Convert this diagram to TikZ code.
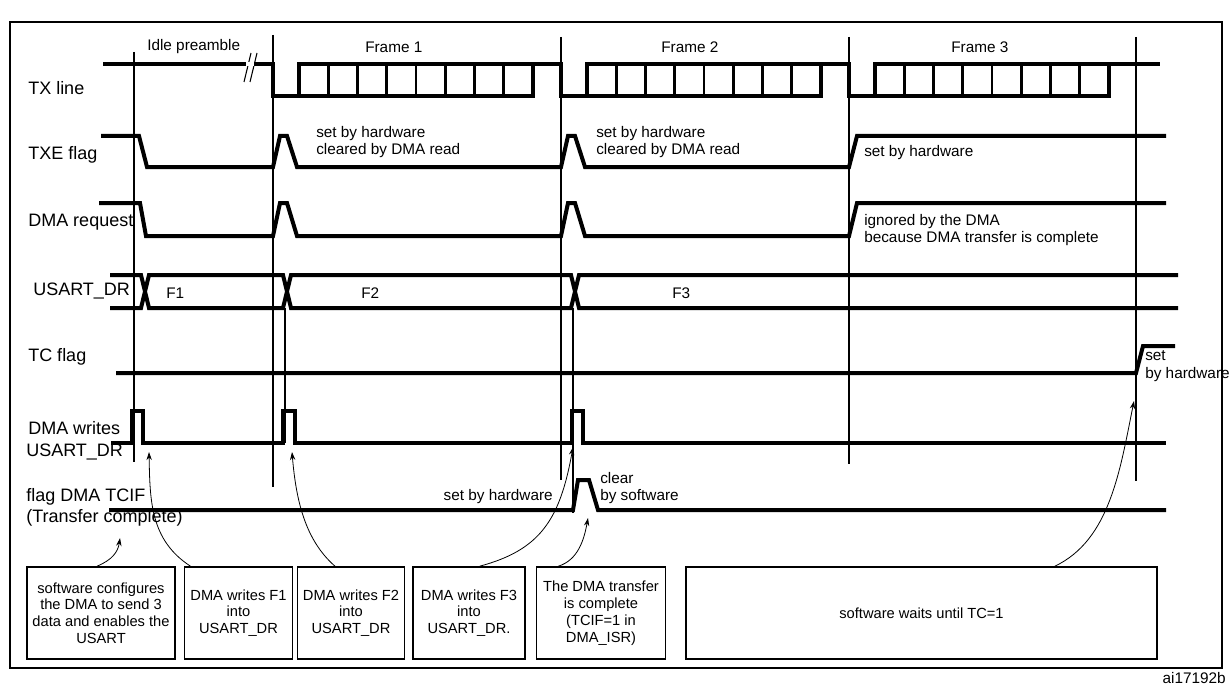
\documentclass[tikz,border=0pt]{standalone}
\usepackage{fontspec}
\setmainfont{Liberation Sans}
\usetikzlibrary{positioning}
\usetikzlibrary{arrows.meta}

\tikzset{
  sig/.style={line width=3pt,line join=miter},
  grid/.style={line width=0.8pt},
  lbl/.style={font=\fontsize{13.5}{15}\selectfont,anchor=west,inner sep=0pt},
  note/.style={font=\fontsize{11.5}{13}\selectfont,anchor=west,align=left,inner sep=0pt},
  box/.style={draw,line width=1.2pt,font=\fontsize{11}{12.6}\selectfont,align=center,minimum height=69pt,inner sep=1pt},
  call/.style={-{Stealth[length=6pt,width=4pt]},line width=0.6pt}
}

\begin{document}
\begin{tikzpicture}[x=0.75pt,y=-0.75pt]
      \useasboundingbox (0,0) rectangle (1230,688);
      \draw[line width=1.5pt] (10,22) rectangle (1222,668);
      % frame markers
      \draw[grid] (134,52) -- (134,462) (273,35) -- (273,487) (561,37) -- (561,480)
                  (849,37) -- (849,464) (1136,37) -- (1136,481)
                  (285,308) -- (285,443) (573,308) -- (573,513);
      \node[note] at (147,47) {Idle preamble};
      \node[note] at (365,47) {Frame 1};
      \node[note] at (661,47) {Frame 2};
      \node[note] at (951,47) {Frame 3};
      % signal names
      \node[lbl] at (28,88) {TX line};
      \node[lbl] at (28,155) {TXE flag};
      \node[lbl] at (28,222) {DMA request};
      \node[lbl] at (33,291) {USART\_DR};
      \node[lbl] at (28,357) {TC flag};
      \node[lbl] at (28,428) {DMA writes};
      \node[lbl] at (26,452) {USART\_DR};
      \node[lbl] at (26,497) {flag DMA TCIF};
      \node[lbl] at (26,518) {(Transfer complete)};
      % TX line
      \draw[sig] (103,64) -- (273,64) -- (273,96) -- (299,96) -- (299,64) -- (561,64) -- (561,96)
                 -- (587,96) -- (587,64) -- (849,64) -- (849,96) -- (875,96) -- (875,64) -- (1160,64);
      \draw[sig] (299,96) -- (533,96) -- (533,64) (587,96) -- (821,96) -- (821,64) (875,96) -- (1109,96) -- (1109,64);
      \foreach\s in {0,288,576} {
        \foreach\i in {1,...,7} { \draw[sig,line width=2.2pt] (299+\s+29.25*\i,64) -- (299+\s+29.25*\i,96); }
      }
      \draw[grid] (244,82) -- (251,53) (250,82) -- (257,53);
      \fill[white] (246,62) rectangle (254,66);
      % TXE flag
      \draw[sig] (101,136) -- (139,136) -- (147,167) -- (273,167) -- (280,136) -- (287,136) -- (297,167)
                 -- (561,167) -- (568,136) -- (575,136) -- (585,167) -- (849,167) -- (857,136) -- (1166,136);
      \node[note] at (316,142) {set by hardware\\cleared by DMA read};
      \node[note] at (596,142) {set by hardware\\cleared by DMA read};
      \node[note] at (864,153) {set by hardware};
      % DMA request
      \draw[sig] (99,203) -- (140,203) -- (146,236) -- (273,236) -- (280,203) -- (287,203) -- (297,236)
                 -- (561,236) -- (568,203) -- (575,203) -- (585,236) -- (849,236) -- (857,203) -- (1166,203);
      \node[note] at (864,230) {ignored by the DMA\\because DMA transfer is complete};
      % USART_DR
      \draw[sig] (110,275) -- (141,275) -- (149,308) -- (283,308) -- (291,275) -- (571,275) -- (579,308) -- (1178,308)
                 (110,308) -- (141,308) -- (149,275) -- (283,275) -- (291,308) -- (571,308) -- (579,275) -- (1178,275);
      \node[note] at (166,293) {F1};
      \node[note] at (361,293) {F2};
      \node[note] at (672,293) {F3};
      % TC flag
      \draw[sig] (116,373) -- (1136,373) -- (1143,346) -- (1175,346);
      \node[note] at (1145,366) {set\\by hardware};
      % DMA writes
      \draw[sig] (111,443) -- (132,443) -- (132,411) -- (143,411) -- (143,443) -- (283,443) -- (283,411)
                 -- (295,411) -- (295,443) -- (572,443) -- (572,411) -- (583,411) -- (583,443) -- (1166,443);
      % TCIF
      \draw[sig] (109,510) -- (573,510) -- (578,480) -- (589,480) -- (598,510) -- (1166,510);
      \node[note,anchor=east] at (553,497) {set by hardware};
      \node[note] at (600,488) {clear\\by software};
      % explanation boxes
      \node[box,minimum width=111pt] (cfg) at (101,613) {software configures\\the DMA to send 3\\data and enables the\\USART};
      \node[box,minimum width=81pt] (wr1) at (238.5,613) {DMA writes F1\\into\\USART\_DR};
      \node[box,minimum width=80pt] (wr2) at (351,613) {DMA writes F2\\into\\USART\_DR};
      \node[box,minimum width=84pt] (wr3) at (469,613) {DMA writes F3\\into\\USART\_DR.};
      \node[box,minimum width=97pt] (done) at (601,613) {The DMA transfer\\is complete\\(TCIF=1 in\\DMA\_ISR)};
      \node[box,minimum width=353pt] (wait) at (921.5,613) {software waits until TC=1};
      % call-outs
      \coordinate (tcifcfg) at (120,538);
      \coordinate (dw1) at (149,452);
      \coordinate (dw2) at (292,452);
      \coordinate (dw3) at (573,447);
      \coordinate (tcifset) at (588,518);
      \coordinate (tcset) at (1134,401);
      \draw[call] ([xshift=-3pt]cfg.north) .. controls (112,560) and (118,552) .. (tcifcfg);
      \draw[call] ([xshift=-36pt]wr1.north) .. controls (150,540) and (150,500) .. (dw1);
      \draw[call] ([xshift=-12pt]wr2.north) .. controls (305,540) and (296,500) .. (dw2);
      \draw[call] ([xshift=8pt]wr3.north) .. controls (540,550) and (560,520) .. (dw3);
      \draw[call] ([xshift=-32pt]done.north) .. controls (578,560) and (584,540) .. (tcifset);
      \draw[call] ([xshift=100pt]wait.north) .. controls (1110,540) and (1120,470) .. (tcset);
      \node[note,anchor=east] at (1226,678) {ai17192b};
\end{tikzpicture}
\end{document}
